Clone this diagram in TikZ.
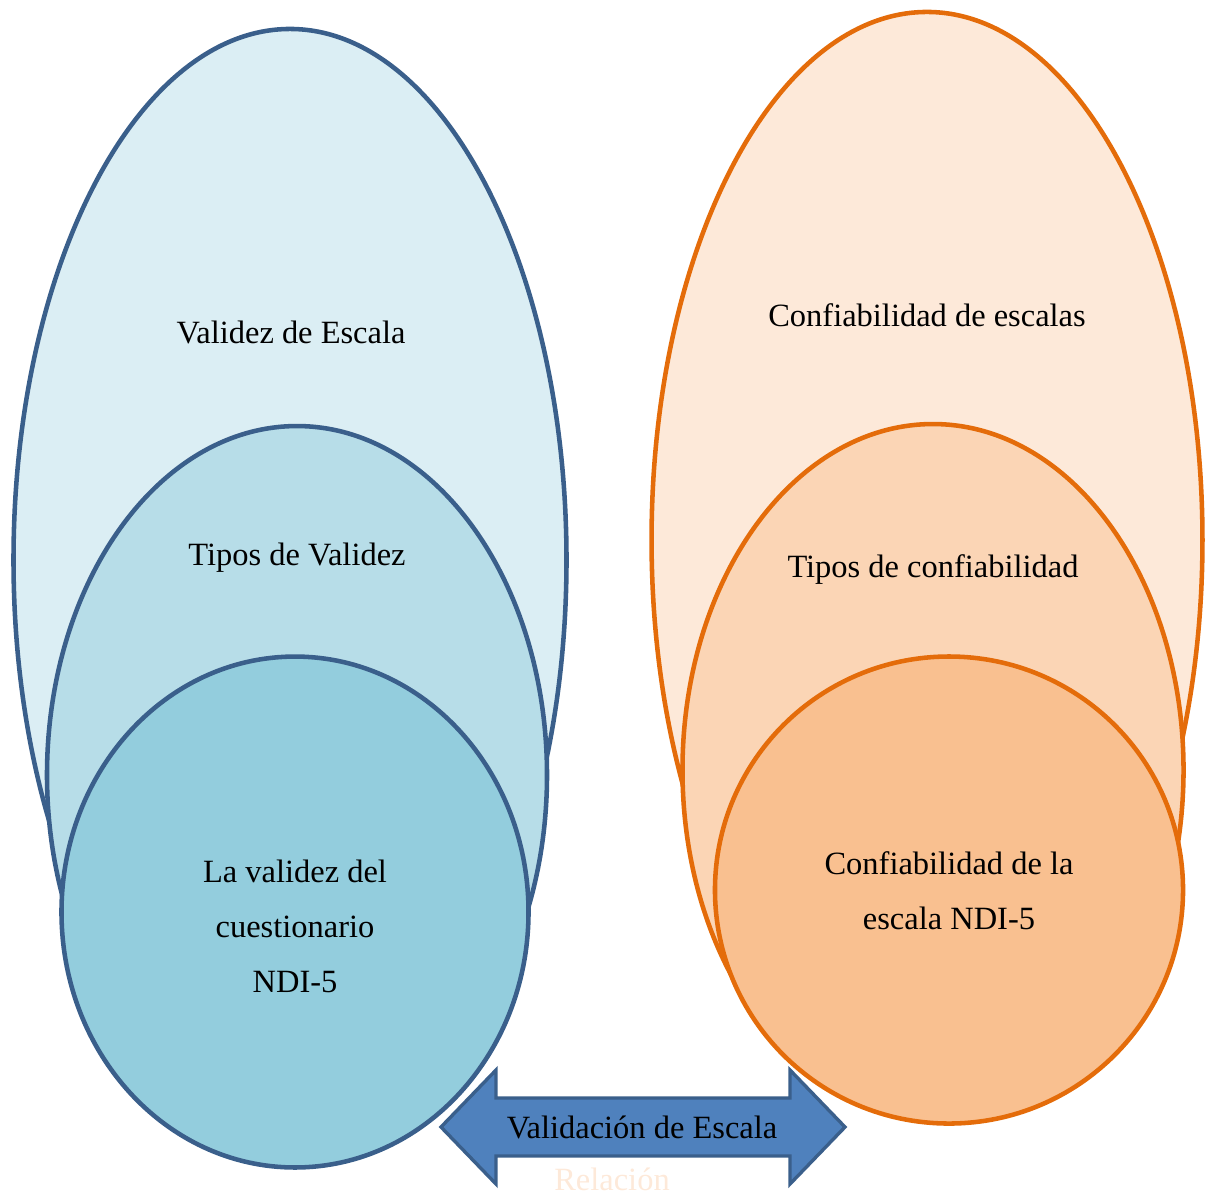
\documentclass[tikz,border=0pt]{standalone}
\usepackage{fontspec}
\setmainfont{Liberation Serif}
\usetikzlibrary{positioning,shapes.geometric}

\definecolor{bordeAzul}{HTML}{3A5F8B}
\definecolor{azulA}{HTML}{DBEEF4}
\definecolor{azulB}{HTML}{B7DDE8}
\definecolor{azulC}{HTML}{93CDDD}
\definecolor{bordeNaranja}{HTML}{E46C0A}
\definecolor{naranjaA}{HTML}{FDE9D9}
\definecolor{naranjaB}{HTML}{FBD5B5}
\definecolor{naranjaC}{HTML}{F9C090}
\definecolor{flecha}{HTML}{4F81BD}
\definecolor{bordeFlecha}{HTML}{3A5F8B}

\tikzset{
  nivel/.style={ellipse, inner sep=0pt, line width=1.75pt},
  azul/.style={nivel, draw=bordeAzul},
  naranja/.style={nivel, draw=bordeNaranja},
  rotulo/.style={align=center, font=\fontsize{12.5}{21.2}\selectfont}
}

\begin{document}
\begin{tikzpicture}[x=0.385pt, y=-0.385pt]
  \useasboundingbox (0,0) rectangle (1207,1194);

  % validez
  \node[azul, fill=azulA, minimum width=212.9pt, minimum height=408.9pt] (valE) at (290,560) {};
  \node[azul, fill=azulB, minimum width=192.5pt, minimum height=268.7pt] (valT) at (297,775) {};
  \node[azul, fill=azulC, minimum width=179.8pt, minimum height=196.7pt] (valN) at (295,912) {};

  % confiabilidad
  \node[naranja, fill=naranjaA, minimum width=212.1pt, minimum height=406.6pt] (confE) at (927,540) {};
  \node[naranja, fill=naranjaB, minimum width=192.9pt, minimum height=266.4pt] (confT) at (933,770) {};
  \node[naranja, fill=naranjaC, minimum width=180.2pt, minimum height=179.8pt] (confN) at (949,890) {};

  \node[rotulo] (tvalE) at (291,332) {Validez de Escala};
  \node[rotulo] (tvalT) at (297,558) {Tipos de Validez};
  \node[rotulo] (tvalN) at (295,926) {La validez del\\cuestionario\\NDI-5};
  \node[rotulo] (tconfE) at (927,315) {Confiabilidad de escalas};
  \node[rotulo] (tconfT) at (933,570) {Tipos de confiabilidad};
  \node[rotulo] (tconfN) at (949,891) {Confiabilidad de la\\escala NDI-5};

  % flecha doble
  \draw[fill=flecha, draw=bordeFlecha, line width=1.3pt, line join=miter]
    (441,1127) -- (496,1070) -- (496,1098) -- (790,1098) -- (790,1070)
    -- (845,1127) -- (790,1184) -- (790,1156) -- (496,1156) -- (496,1184) -- cycle;
  \node[rotulo] (rel) at (642,1127) {Validación de Escala};
  \node[rotulo, text=naranjaA, anchor=base] (relT) at (612,1190) {Relación};
\end{tikzpicture}
\end{document}
